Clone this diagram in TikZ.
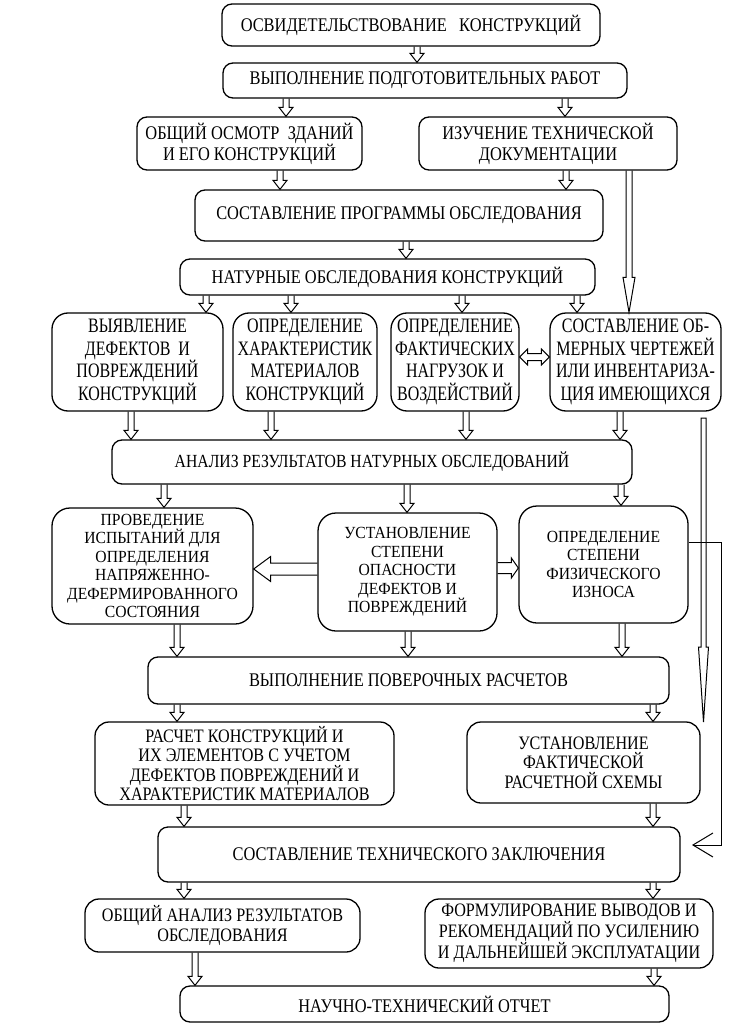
\documentclass[tikz,border=0pt]{standalone}
\usepackage{fontspec}
\setmainfont{Liberation Serif}
\newfontfamily\fA[FakeStretch=0.85]{Liberation Serif}
\newfontfamily\fB[FakeStretch=0.78]{Liberation Serif}
\newfontfamily\fC[FakeStretch=0.92]{Liberation Serif}
\usetikzlibrary{calc,arrows.meta}
\tikzset{
  box/.style={draw, line width=1.3pt, rounded corners=10pt, inner sep=0pt, align=center},
  tA/.style={font=\fA\fontsize{19.3}{21}\selectfont},
  tS/.style={font=\fA\fontsize{18.5}{20}\selectfont},
  tB/.style={font=\fB\fontsize{20.5}{22.5}\selectfont, rounded corners=16pt},
  tC/.style={font=\fC\fontsize{17}{18.5}\selectfont, rounded corners=18pt},
  tD/.style={font=\fA\fontsize{19}{19.5}\selectfont, rounded corners=14pt},
  fat/.style n args={3}{line width=1pt, to path={let \p1=(\tikztostart), \p2=(\tikztotarget),
    \n1={atan2(\y2-\y1,\x2-\x1)}, \n2={veclen(\x2-\x1,\y2-\y1)} in
    ($(\p1)+(\n1+90:#1)$) -- ++(\n1:\n2-#3) -- ++(\n1+90:#2-#1) -- (\p2)
    -- ($(\p2)+(\n1+180:#3)+(\n1-90:#2)$) -- ++(\n1+90:#2-#1) -- ++(\n1+180:\n2-#3)}},
  fatc/.style n args={3}{line width=1pt, to path={let \p1=(\tikztostart), \p2=(\tikztotarget),
    \n1={atan2(\y2-\y1,\x2-\x1)}, \n2={veclen(\x2-\x1,\y2-\y1)} in
    ($(\p1)+(\n1+90:#1)$) -- ++(\n1:\n2-#3) -- ++(\n1+90:#2-#1) -- (\p2)
    -- ($(\p2)+(\n1+180:#3)+(\n1-90:#2)$) -- ++(\n1+90:#2-#1) -- ++(\n1+180:\n2-#3) -- cycle}},
  fatboth/.style n args={3}{line width=1pt, to path={let \p1=(\tikztostart), \p2=(\tikztotarget),
    \n1={atan2(\y2-\y1,\x2-\x1)}, \n2={veclen(\x2-\x1,\y2-\y1)} in
    (\p1) -- ($(\p1)+(\n1:#3)+(\n1+90:#2)$) -- ++(\n1-90:#2-#1) -- ++(\n1:\n2-2*#3)
    -- ++(\n1+90:#2-#1) -- (\p2) -- ($(\p2)+(\n1+180:#3)+(\n1-90:#2)$) -- ++(\n1+90:#2-#1)
    -- ++(\n1+180:\n2-2*#3) -- ++(\n1-90:#2-#1) -- cycle}},
  fatv/.style={fat={3pt}{7pt}{9pt}},
  conn/.style={line width=1pt},
}
\newcommand\bx[7]{\node[box,#6,minimum width={#4-#2},minimum height={#5-#3}] (#1) at ({(#2+#4)/2},{(#3+#5)/2}) {#7};}
\newcommand\va[3]{\draw[fatv] (#1.south -| #3,0) to (#2.north -| #3,0);}
\begin{document}
\begin{tikzpicture}[x=1pt,y=-1pt]
\useasboundingbox (0,0) rectangle (751,1032);
\bx{b1}{222}{4}{600}{46}{tA}{ОСВИДЕТЕЛЬСТВОВАНИЕ~~~КОНСТРУКЦИЙ}
\bx{b2}{223}{63}{627}{98}{tA}{ВЫПОЛНЕНИЕ ПОДГОТОВИТЕЛЬНЫХ РАБОТ}
\bx{b3}{137}{117}{362}{170}{tA}{ОБЩИЙ ОСМОТР~~ЗДАНИЙ\\И ЕГО КОНСТРУКЦИЙ}
\bx{b4}{419}{117}{677}{170}{tA}{ИЗУЧЕНИЕ ТЕХНИЧЕСКОЙ\\ДОКУМЕНТАЦИИ}
\bx{b5}{195}{190}{603}{241}{tA}{СОСТАВЛЕНИЕ ПРОГРАММЫ ОБСЛЕДОВАНИЯ}
\bx{b6}{180}{259}{595}{295}{tA}{НАТУРНЫЕ ОБСЛЕДОВАНИЯ КОНСТРУКЦИЙ}
\bx{b7}{52}{313}{223}{411}{tB}{ВЫЯВЛЕНИЕ\\ДЕФЕКТОВ~~И\\ПОВРЕЖДЕНИЙ\\КОНСТРУКЦИЙ}
\bx{b8}{233}{313}{377}{411}{tB}{ОПРЕДЕЛЕНИЕ\\ХАРАКТЕРИСТИК\\МАТЕРИАЛОВ\\КОНСТРУКЦИЙ}
\bx{b9}{391}{313}{519}{411}{tB}{ОПРЕДЕЛЕНИЕ\\ФАКТИЧЕСКИХ\\НАГРУЗОК И\\ВОЗДЕЙСТВИЙ}
\bx{b10}{550}{313}{721}{411}{tB}{СОСТАВЛЕНИЕ ОБ-\\МЕРНЫХ ЧЕРТЕЖЕЙ\\ИЛИ ИНВЕНТАРИЗА-\\ЦИЯ ИМЕЮЩИХСЯ}
\bx{b11}{112}{440}{632}{484}{tS}{АНАЛИЗ РЕЗУЛЬТАТОВ НАТУРНЫХ ОБСЛЕДОВАНИЙ}
\bx{b12}{52}{508}{253}{624}{tC}{ПРОВЕДЕНИЕ\\ИСПЫТАНИЙ ДЛЯ\\ОПРЕДЕЛЕНИЯ\\НАПРЯЖЕННО-\\ДЕФЕРМИРОВАННОГО\\СОСТОЯНИЯ}
\bx{b13}{318}{513}{497}{631}{tC}{УСТАНОВЛЕНИЕ\\СТЕПЕНИ\\ОПАСНОСТИ\\ДЕФЕКТОВ И\\ПОВРЕЖДЕНИЙ}
\bx{b14}{519}{506}{688}{623}{tC}{ОПРЕДЕЛЕНИЕ\\СТЕПЕНИ\\ФИЗИЧЕСКОГО\\ИЗНОСА}
\bx{b15}{148}{657}{669}{704}{tA}{ВЫПОЛНЕНИЕ ПОВЕРОЧНЫХ РАСЧЕТОВ}
\bx{b16}{95}{722}{394}{805}{tD}{РАСЧЕТ КОНСТРУКЦИЙ И\\ИХ ЭЛЕМЕНТОВ С УЧЕТОМ\\ДЕФЕКТОВ ПОВРЕЖДЕНИЙ И\\ХАРАКТЕРИСТИК МАТЕРИАЛОВ}
\bx{b17}{467}{722}{700}{803}{tD}{УСТАНОВЛЕНИЕ\\ФАКТИЧЕСКОЙ\\РАСЧЕТНОЙ СХЕМЫ}
\bx{b18}{158}{827}{680}{882}{tA}{СОСТАВЛЕНИЕ ТЕХНИЧЕСКОГО ЗАКЛЮЧЕНИЯ}
\bx{b19}{85}{899}{360}{952}{tD}{ОБЩИЙ АНАЛИЗ РЕЗУЛЬТАТОВ\\ОБСЛЕДОВАНИЯ}
\bx{b20}{425}{899}{713}{968}{tD}{ФОРМУЛИРОВАНИЕ ВЫВОДОВ И\\РЕКОМЕНДАЦИЙ ПО УСИЛЕНИЮ\\И ДАЛЬНЕЙШЕЙ ЭКСПЛУАТАЦИИ}
\bx{b21}{180}{986}{669}{1022}{tA}{НАУЧНО-ТЕХНИЧЕСКИЙ ОТЧЕТ}
% vertical arrows
\va{b1}{b2}{417}
\va{b2}{b3}{286}
\va{b2}{b4}{565}
\va{b3}{b5}{280}
\va{b4}{b5}{566}
\va{b5}{b6}{406}
\va{b6}{b7}{206}
\va{b6}{b8}{291}
\va{b6}{b9}{462}
\va{b6}{b10}{577}
\va{b7}{b11}{131}
\va{b8}{b11}{271}
\va{b9}{b11}{466}
\va{b10}{b11}{620}
\va{b11}{b12}{164}
\va{b11}{b13}{407}
\va{b11}{b14}{621}
\va{b12}{b15}{177}
\va{b13}{b15}{408}
\va{b14}{b15}{622}
\va{b15}{b16}{177}
\va{b15}{b17}{653}
\va{b16}{b18}{184}
\va{b17}{b18}{653}
\va{b18}{b19}{184}
\va{b18}{b20}{653}
\va{b19}{b21}{195}
\va{b20}{b21}{654}
% horizontal arrows
\draw[fatboth={3.5pt}{8pt}{8pt}] (b9.east |- 0,357) to (b10.west |- 0,357);
\draw[fat={6pt}{12.5pt}{17pt}] (b13.west |- 0,569) to (b12.east |- 0,569);
\draw[fat={5.5pt}{10pt}{7pt}] (b13.east |- 0,568) to (b14.west |- 0,568);
% long arrows on the right
\draw[fat={3pt}{6pt}{35pt}] (b4.south -| 629,0) to (b10.north -| 629,0);
\coordinate (lbTop) at (703.5,418);
\coordinate (lbTip) at (703.5,722);
\draw[fatc={2.5pt}{5pt}{75pt}] (lbTop) to (lbTip);
\coordinate (rc) at (721,845);
\coordinate (tipR) at (692,845);
\draw[conn,-{Straight Barb[length=20pt,width=24pt,line width=1pt]}] (b14.east |- 0,542) -| (rc) -- (tipR);
\end{tikzpicture}
\end{document}
